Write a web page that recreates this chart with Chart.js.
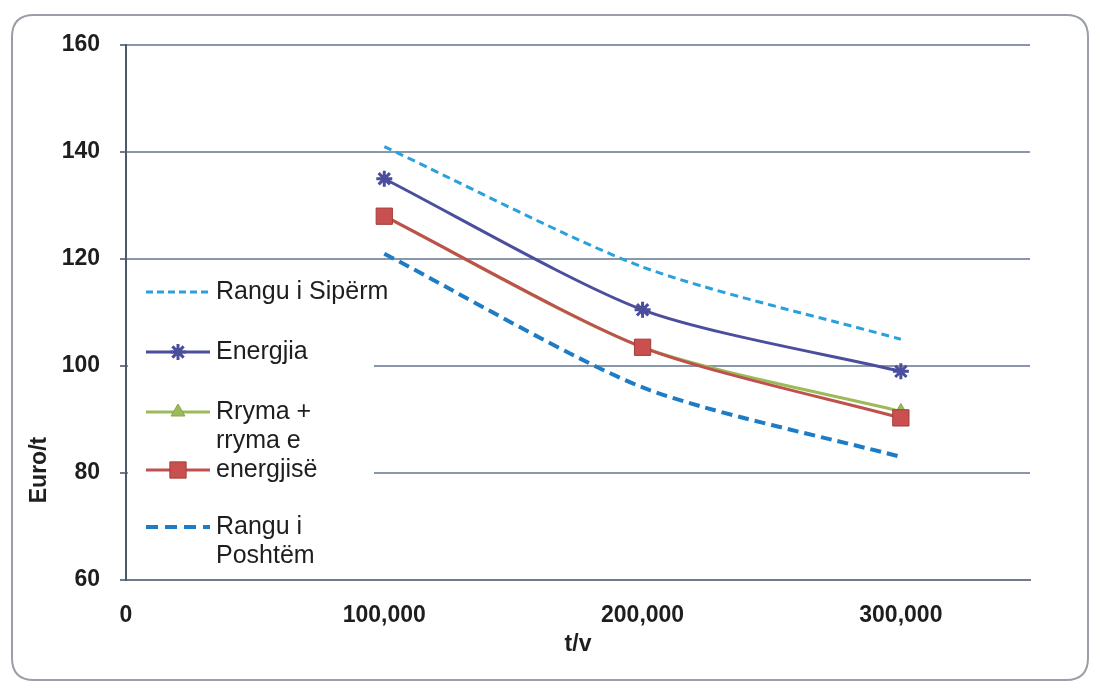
<!DOCTYPE html>
<html>
<head>
<meta charset="utf-8">
<script src="https://cdn.jsdelivr.net/npm/chart.js@4/dist/chart.umd.min.js"></script>
<style>
  html, body { margin: 0; padding: 0; background: #ffffff; }
  #wrap { width: 1096px; height: 684px; position: relative; }
</style>
</head>
<body>
<div id="wrap"><canvas id="c" width="1096" height="684"></canvas></div>
<script>
// Capacity (t/v) and cost per tonne (Euro/t)
const capacity = [100000, 200000, 300000];
const upperRange = [141, 118.5, 105];
const energy = [135, 110.5, 99];
const steamPlus = [128, 103.5, 91.5];
const steamEnergy = [128, 103.5, 90.3];
const lowerRange = [121, 96, 83];

const seriesLabels = ['Rangu i Sipërm', 'Energjia', 'Rryma +\nrryma e', 'energjisë', 'Rangu i\nPoshtëm'];
const yTicks = [60, 80, 100, 120, 140, 160];
const xTicks = [0, 100000, 200000, 300000];
const yTitle = 'Euro/t';
const xTitle = 't/v';

const FONT = '"Liberation Sans", Arial, sans-serif';

function pts(values) {
  return capacity.map((x, i) => ({ x: x, y: values[i] }));
}

// Rounded frame around the whole chart
const framePlugin = {
  id: 'frame',
  beforeDraw(chart) {
    const ctx = chart.ctx;
    ctx.save();
    ctx.fillStyle = '#ffffff';
    ctx.fillRect(0, 0, chart.width, chart.height);
    const x = 12, y = 15, w = 1076, h = 665, r = 22;
    ctx.beginPath();
    ctx.moveTo(x + r, y);
    ctx.lineTo(x + w - r, y);
    ctx.quadraticCurveTo(x + w, y, x + w, y + r);
    ctx.lineTo(x + w, y + h - r);
    ctx.quadraticCurveTo(x + w, y + h, x + w - r, y + h);
    ctx.lineTo(x + r, y + h);
    ctx.quadraticCurveTo(x, y + h, x, y + h - r);
    ctx.lineTo(x, y + r);
    ctx.quadraticCurveTo(x, y, x + r, y);
    ctx.closePath();
    ctx.strokeStyle = '#9a9ea6';
    ctx.lineWidth = 2;
    ctx.stroke();
    ctx.restore();
  }
};

// Axis titles
const titlesPlugin = {
  id: 'axisTitles',
  afterDraw(chart) {
    const ctx = chart.ctx;
    ctx.save();
    ctx.fillStyle = '#1e1e1e';
    ctx.font = 'bold 23px ' + FONT;
    ctx.textAlign = 'center';
    ctx.textBaseline = 'middle';
    const xa = chart.scales.x;
    ctx.fillText(xTitle, (xa.left + xa.right) / 2, 645);
    ctx.translate(40, 470);
    ctx.rotate(-Math.PI / 2);
    ctx.fillText(yTitle, 0, 0);
    ctx.restore();
  }
};

// Legend drawn inside the plot on the left, on its own white box, with wrapped labels
const legendRows = [292, 352, 412, 470, 527];
const sideLegend = {
  id: 'sideLegend',
  beforeDatasetsDraw(chart) {
    const ctx = chart.ctx;
    ctx.save();
    ctx.fillStyle = '#ffffff';
    ctx.fillRect(128, 268, 246, 308);
    ctx.restore();
  },
  afterDatasetsDraw(chart) {
    const ctx = chart.ctx;
    chart.data.datasets.forEach((ds, i) => {
      const y = legendRows[i];
      ctx.save();
      ctx.strokeStyle = ds.borderColor;
      ctx.lineWidth = ds.borderWidth;
      ctx.setLineDash(ds.legendDash || []);
      ctx.beginPath();
      ctx.moveTo(146, y);
      ctx.lineTo(210, y);
      ctx.stroke();
      ctx.setLineDash([]);
      if (ds.pointRadius > 0) {
        ctx.fillStyle = ds.pointBackgroundColor;
        ctx.strokeStyle = ds.pointBorderColor;
        ctx.lineWidth = ds.pointBorderWidth;
        Chart.helpers.drawPoint(ctx, {
          pointStyle: ds.pointStyle,
          radius: ds.pointRadius,
          borderWidth: ds.pointBorderWidth,
          rotation: 0
        }, 178, y);
      }
      ctx.fillStyle = '#1e1e1e';
      ctx.font = '25px ' + FONT;
      ctx.textAlign = 'left';
      ctx.textBaseline = 'middle';
      ds.label.split('\n').forEach((line, k) => {
        ctx.fillText(line, 216, y + k * 29);
      });
      ctx.restore();
    });
  }
};

new Chart(document.getElementById('c'), {
  type: 'line',
  data: {
    datasets: [
      {
        label: seriesLabels[0],
        data: pts(upperRange),
        borderColor: '#2aa0dc',
        borderWidth: 3,
        borderDash: [8, 5],
        legendDash: [7, 4],
        pointRadius: 0,
        tension: 0.25
      },
      {
        label: seriesLabels[1],
        data: pts(energy),
        borderColor: '#4a4e9c',
        borderWidth: 3,
        pointStyle: 'star',
        pointRadius: 8,
        pointBorderWidth: 3,
        pointBackgroundColor: '#4a4e9c',
        pointBorderColor: '#4a4e9c',
        tension: 0.25
      },
      {
        label: seriesLabels[2],
        data: pts(steamPlus),
        borderColor: '#9bbb59',
        borderWidth: 3,
        pointStyle: 'triangle',
        pointRadius: 8,
        pointBorderWidth: 1,
        pointBackgroundColor: '#9bbb59',
        pointBorderColor: '#86a64a',
        tension: 0.25
      },
      {
        label: seriesLabels[3],
        data: pts(steamEnergy),
        borderColor: '#c0504d',
        borderWidth: 3,
        pointStyle: 'rect',
        pointRadius: 11.5,
        pointBorderWidth: 1,
        pointBackgroundColor: '#c9504e',
        pointBorderColor: '#a33d3a',
        tension: 0.25,
        order: -1
      },
      {
        label: seriesLabels[4],
        data: pts(lowerRange),
        borderColor: '#1d7cc6',
        borderWidth: 4,
        borderDash: [11, 6],
        legendDash: [12, 7],
        pointRadius: 0,
        tension: 0.25
      }
    ]
  },
  options: {
    responsive: false,
    devicePixelRatio: 1,
    animation: false,
    layout: { padding: { left: 0, right: 66, top: 45, bottom: 0 } },
    plugins: {
      legend: { display: false },
      tooltip: { enabled: false }
    },
    scales: {
      x: {
        type: 'linear',
        min: 0,
        max: 350000,
        afterBuildTicks(scale) {
          scale.ticks = xTicks.map(v => ({ value: v }));
        },
        afterFit(scale) { scale.height = 104; },
        grid: { display: false, drawTicks: false },
        border: { display: true, color: '#6f7a8a', width: 2 },
        ticks: {
          padding: 22,
          color: '#1e1e1e',
          font: { family: FONT, size: 23, weight: 'bold' },
          callback: v => v.toLocaleString('en-US')
        }
      },
      y: {
        min: 60,
        max: 160,
        afterBuildTicks(scale) {
          scale.ticks = yTicks.map(v => ({ value: v }));
        },
        afterFit(scale) { scale.width = 126; },
        grid: {
          color: '#8a97aa',
          lineWidth: 2,
          drawTicks: true,
          tickLength: 6,
          tickColor: '#6f7a8a'
        },
        border: { display: true, color: '#4f5866', width: 2 },
        ticks: {
          padding: 20,
          color: '#1e1e1e',
          font: { family: FONT, size: 23, weight: 'bold' }
        }
      }
    }
  },
  plugins: [framePlugin, titlesPlugin, sideLegend]
});
</script>
</body>
</html>
